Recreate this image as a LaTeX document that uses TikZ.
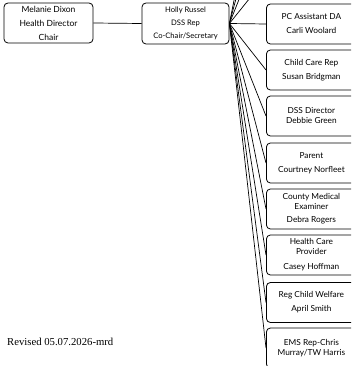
\documentclass[tikz,border=0pt]{standalone}
\usepackage{fontspec}
\setmainfont{Lato}
\newfontfamily\revfont{Liberation Serif}
\begin{document}
\begin{tikzpicture}[x=1pt,y=-1pt,
  box/.style={draw=black, line width=0.8pt, rounded corners=4pt, align=center, inner sep=1pt, font=\fontsize{8.3}{10}\selectfont},
  rbox/.style={box, minimum width=90pt, minimum height=40pt, anchor=west},
  conn/.style={draw=black, line width=0.7pt}]
\useasboundingbox (0,0) rectangle (351,366);
\clip (0,0) rectangle (351,366);
\node[box, minimum width=89pt, minimum height=40pt, font=\fontsize{8.5}{14}\selectfont] (mel) at (48.5,23) {Melanie Dixon\\Health Director\\Chair};
\node[box, minimum width=87pt, minimum height=41pt, font=\fontsize{7.6}{13}\selectfont] (hol) at (185.5,23.5) {Holly Russel\\DSS Rep\\Co-Chair/Secretary};
\node[rbox] (pc) at (266,24) {PC Assistant DA\\[4pt]Carli Woolard};
\node[rbox] (cc) at (266,70) {Child Care Rep\\[4pt]Susan Bridgman};
\node[rbox] (dss) at (266,116) {DSS Director\\Debbie Green};
\node[rbox] (par) at (266,163) {Parent\\[4pt]Courtney Norfleet};
\node[rbox] (cme) at (266,209) {County Medical\\Examiner\\[3pt]Debra Rogers};
\node[rbox] (hcp) at (266,255) {Health Care\\Provider\\[5pt]Casey Hoffman};
\node[rbox] (rcw) at (266,302.5) {Reg Child Welfare\\[4pt]April Smith};
\node[rbox] (ems) at (266,348) {EMS Rep-Chris\\Murray/TW Harris};
\coordinate (up1) at (266,-22);
\coordinate (up2) at (266,-68);
\coordinate (up3) at (266,-114);
\coordinate (up4) at (266,-160);
\draw[conn] (mel.east) -- (hol.west);
\foreach \t in {pc,cc,dss,par,cme,hcp,rcw,ems}{\draw[conn] (hol.east) -- (\t.west);}
\foreach \t in {up1,up2,up3,up4}{\draw[conn] (hol.east) -- (\t);}
\node[font=\revfont\fontsize{10.7}{12}\selectfont, anchor=west, inner sep=0pt] (rev) at (7,342) {Revised 05.07.2026-mrd};
\end{tikzpicture}
\end{document}
